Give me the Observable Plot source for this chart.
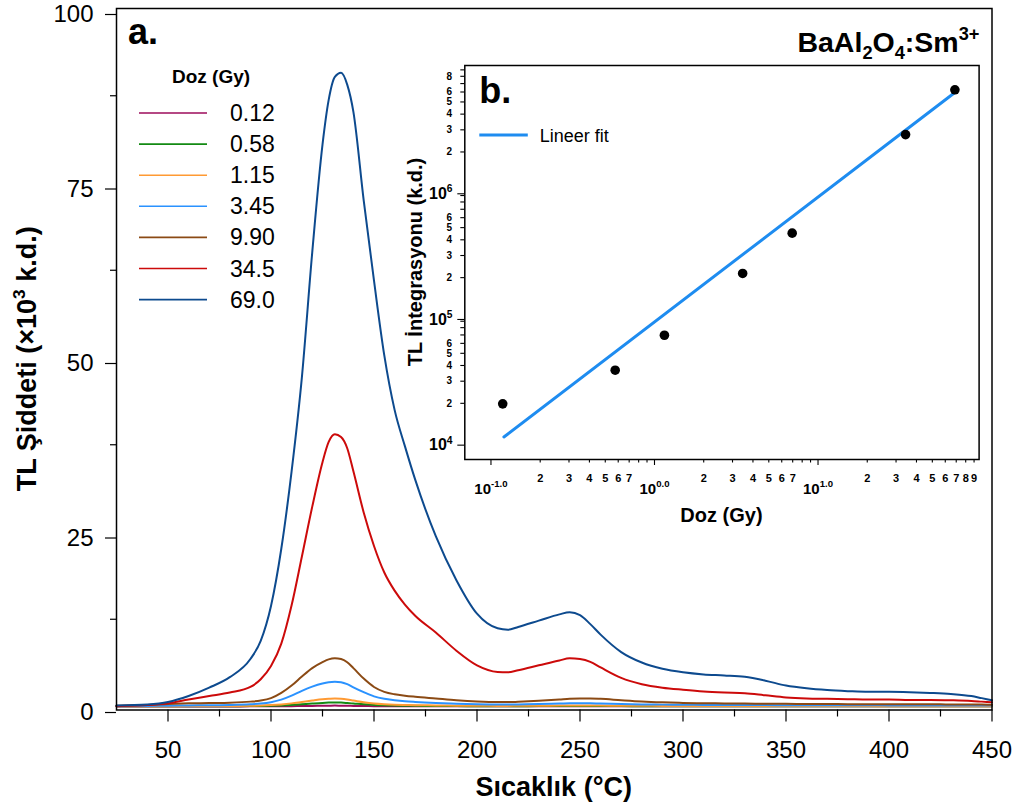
<!DOCTYPE html>
<html><head><meta charset="utf-8">
<script src="https://cdn.jsdelivr.net/npm/d3@7"></script>
<script src="https://cdn.jsdelivr.net/npm/@observablehq/plot@0.6"></script>
<style>
body{margin:0;background:#fff;}
#wrap{position:relative;width:1023px;height:806px;overflow:hidden;background:#fff;}
#wrap svg{position:absolute;overflow:visible;max-width:none;}
</style></head><body><div id="wrap"></div>
<script>
// ---------- Panel a: TL glow curves ----------
const temps = [25,40,50,60,70,80,90, 95,100,105,110,115,120,125, 128,131,134,137,140, 145,150,155,160,165,170, 180,190,200,210,215,220, 230,240,245,250,255,260, 270,280,290,300,310,320, 330,340,350,360,370,380, 390,400,410,420,430,440, 445,450];
const tl_69_0 = [0.15,0.3,0.65,1.5,2.7,4.2,6.8, 9.4,14.4,22.6,33.7,47.2,65.0,80.5, 86.9,90.2,90.8,89.1,85.2, 72.5,61.0,50.3,42.5,37.3,32.5, 24.4,18.1,13.3,11.2,11.0,11.4, 12.3,13.2,13.5,13.1,11.8,10.3, 7.8,6.3,5.4,4.9,4.6,4.45, 4.25,3.7,3.0,2.6,2.35,2.2, 2.1,2.1,2.05,1.95,1.8,1.5, 1.2,0.9];
const tl_34_5 = [0.05,0.2,0.45,1.0,1.5,2.0,2.8, 3.9,5.8,9.0,14.5,21.5,28.6,35.0, 37.9,39.0,38.6,37.0,33.7, 27.8,23.0,19.2,16.6,14.6,13.0, 10.6,8.0,5.9,4.95,4.9,5.2, 5.9,6.6,6.9,6.8,6.4,5.6, 4.1,3.2,2.7,2.4,2.15,2.0, 1.9,1.6,1.3,1.15,1.1,1.05, 1.0,1.0,0.95,0.95,0.9,0.8, 0.7,0.6];
const tl_9_90 = [0.1,0.2,0.35,0.45,0.5,0.55,0.7, 0.85,1.2,1.95,3.0,4.3,5.5,6.35, 6.75,6.9,6.8,6.35,5.5, 4.0,2.8,2.1,1.75,1.55,1.4, 1.15,0.9,0.72,0.63,0.63,0.68, 0.82,1.0,1.1,1.15,1.15,1.1, 0.9,0.72,0.6,0.52,0.47,0.44, 0.42,0.4,0.38,0.36,0.35,0.34, 0.33,0.33,0.32,0.32,0.3,0.3, 0.28,0.25];
const tl_3_45 = [0.05,0.08,0.12,0.15,0.18,0.22,0.32, 0.42,0.62,0.98,1.55,2.25,2.85,3.3, 3.48,3.55,3.48,3.2,2.75, 2.05,1.45,1.1,0.9,0.75,0.65, 0.5,0.4,0.32,0.28,0.28,0.3, 0.35,0.42,0.45,0.46,0.45,0.42, 0.36,0.3,0.27,0.25,0.23,0.22, 0.21,0.2,0.19,0.18,0.18,0.17, 0.17,0.16,0.16,0.15,0.15,0.14, 0.14,0.13];
const tl_1_15 = [0.03,0.04,0.05,0.06,0.07,0.08,0.11, 0.14,0.2,0.3,0.45,0.65,0.85,1.03, 1.1,1.15,1.1,1.0,0.86, 0.62,0.44,0.33,0.26,0.22,0.19, 0.15,0.12,0.1,0.09,0.09,0.1, 0.11,0.13,0.14,0.14,0.14,0.13, 0.11,0.1,0.09,0.08,0.08,0.07, 0.07,0.07,0.06,0.06,0.06,0.06, 0.06,0.05,0.05,0.05,0.05,0.05, 0.05,0.05];
const tl_0_58 = [0.02,0.02,0.03,0.03,0.04,0.04,0.06, 0.08,0.11,0.16,0.23,0.33,0.43,0.52, 0.56,0.58,0.56,0.5,0.43, 0.31,0.22,0.17,0.13,0.11,0.1, 0.08,0.06,0.05,0.05,0.05,0.05, 0.06,0.07,0.07,0.07,0.07,0.07, 0.06,0.05,0.05,0.04,0.04,0.04, 0.04,0.04,0.03,0.03,0.03,0.03, 0.03,0.03,0.03,0.03,0.03,0.03, 0.03,0.03];
const tl_0_12 = [0.01,0.01,0.01,0.01,0.01,0.01,0.02, 0.02,0.03,0.04,0.05,0.07,0.09,0.11, 0.12,0.13,0.12,0.11,0.09, 0.07,0.05,0.04,0.03,0.03,0.02, 0.02,0.02,0.02,0.02,0.02,0.02, 0.02,0.02,0.02,0.02,0.02,0.02, 0.02,0.02,0.02,0.02,0.02,0.02, 0.02,0.02,0.02,0.02,0.02,0.02, 0.02,0.02,0.02,0.02,0.02,0.02, 0.02,0.02];
const doseLabels = ["0.12","0.58","1.15","3.45","9.90","34.5","69.0"];
const doseColors = ["#9c0b5b","#138a13","#ff9a33","#2a92ff","#8b4a14","#cc0a0a","#0d4a8e"];
const xTicks = [50,100,150,200,250,300,350,400,450];
const xMinorTicks = [75,125,175,225,275,325,375,425];
const yTicks = [0,25,50,75,100];
const yMinorTicks = [12.5,37.5,62.5,87.5];

// ---------- Panel b: integrated TL vs dose ----------
const insetDose = [0.118,0.575,1.15,3.46,6.95,34.3,68.7];
const insetTL = [1.98e4,3.67e4,6.96e4,2.16e5,4.52e5,2.75e6,6.25e6];
const fitDose = [0.12,69];
const fitTL = [1.08e4,5.97e6];
const insetXMajor = [0.1,1,10];
const insetXMajorLabels = ["10^{-1.0}","10^{0.0}","10^{1.0}"];
const insetXMinor = [0.2,0.3,0.4,0.5,0.6,0.7,0.8,0.9,2,3,4,5,6,7,8,9,20,30,40,50,60,70,80,90];
const insetXMinorLabeled = [0.2,0.3,0.4,0.5,0.6,0.7,2,3,4,5,6,7,20,30,40,50,60,70,80,90];
const insetYMajor = [1e4,1e5,1e6];
const insetYMajorLabels = ["10^{4}","10^{5}","10^{6}"];
const insetYMinor = [2e4,3e4,4e4,5e4,6e4,7e4,8e4,9e4,2e5,3e5,4e5,5e5,6e5,7e5,8e5,9e5,2e6,3e6,4e6,5e6,6e6,7e6,8e6,9e6];
const insetYMinorLabeled = [2e4,3e4,4e4,5e4,6e4,2e5,3e5,4e5,5e5,6e5,2e6,3e6,4e6,5e6,6e6,8e6];

const FONT = '"Liberation Sans", Arial, Helvetica, sans-serif';
const wrap = document.getElementById("wrap");

function richText(sel, str, size) {
  const parts = []; const re = /([\^_])\{([^}]*)\}/g; let last = 0, m;
  while ((m = re.exec(str))) {
    if (m.index > last) parts.push({t: str.slice(last, m.index), k: 0});
    parts.push({t: m[2], k: m[1] === "^" ? 1 : -1});
    last = re.lastIndex;
  }
  if (last < str.length) parts.push({t: str.slice(last), k: 0});
  let off = 0;
  for (const p of parts) {
    const target = p.k === 1 ? -0.42 * size : p.k === -1 ? 0.25 * size : 0;
    sel.append("tspan").attr("dy", target - off).attr("font-size", p.k ? size * 0.64 : size).text(p.t);
    off = target;
  }
}
function richify(svg) {
  d3.select(svg).selectAll("text").each(function () {
    const s = this.textContent;
    if (s.includes("^{") || s.includes("_{")) {
      const size = parseFloat(getComputedStyle(this).fontSize);
      d3.select(this).text(null);
      richText(d3.select(this), s, size);
    }
  });
}

const curves = [tl_0_12, tl_0_58, tl_1_15, tl_3_45, tl_9_90, tl_34_5, tl_69_0];
const curveRows = doseLabels.flatMap((dose, i) => temps.map((T, j) => ({T, v: curves[i][j], dose})));

const main = Plot.plot({
  width: 1023, height: 806,
  marginLeft: 116, marginRight: 31.5, marginTop: 8, marginBottom: 96.5,
  style: {fontFamily: FONT, color: "black", background: "transparent", overflow: "visible"},
  x: {domain: [25, 450]},
  y: {domain: [-0.5, 100]},
  color: {domain: doseLabels, range: doseColors},
  marks: [
    Plot.line(curveRows, {x: "T", y: "v", z: "dose", stroke: "dose", strokeWidth: 2, curve: "monotone-x"}),
    Plot.frame({stroke: "black", strokeWidth: 1.5}),
    Plot.axisX({ticks: xTicks, tickSize: 12, tickPadding: 19, fontSize: 24, label: null, strokeWidth: 1.2}),
    Plot.axisX({ticks: xMinorTicks, tickSize: 7, tickFormat: () => "", label: null, strokeWidth: 1.2}),
    Plot.axisY({ticks: yTicks, tickSize: 11, tickPadding: 12, fontSize: 24, dy: 6, label: null, strokeWidth: 1.2}),
    Plot.axisY({ticks: yMinorTicks, tickSize: 6, tickFormat: () => "", label: null, strokeWidth: 1.2})
  ]
});
main.style.left = "0px"; main.style.top = "0px";
wrap.appendChild(main);

const ms = d3.select(main);
const fx = 116, fr = 1023 - 31.5, ft = 8, fb = 806 - 96.5;
ms.append("text").attr("x", fx + 12).attr("y", ft + 36).attr("text-anchor", "start").attr("font-size", 36)
  .attr("font-weight", "bold").attr("font-family", FONT).text("a.");
const title = ms.append("text").attr("x", fr - 12).attr("y", ft + 44).attr("text-anchor", "end")
  .attr("font-size", 28.5).attr("font-weight", "bold").attr("font-family", FONT);
richText(title, "BaAl_{2}O_{4}:Sm^{3+}", 28.5);
ms.append("text").attr("x", (fx + fr) / 2).attr("y", 796).attr("text-anchor", "middle")
  .attr("font-size", 27).attr("font-weight", "bold").attr("font-family", FONT).text("Sıcaklık (°C)");
const ytitle = ms.append("text").attr("transform", `translate(36,${(ft + fb) / 2}) rotate(-90)`)
  .attr("text-anchor", "middle").attr("font-size", 27).attr("font-weight", "bold").attr("font-family", FONT);
richText(ytitle, "TL Şiddeti (×10^{3} k.d.)", 27);

const lg = ms.append("g").attr("font-family", FONT).attr("text-anchor", "start");
lg.append("text").attr("x", 172).attr("y", 83).attr("font-size", 19).attr("font-weight", "bold").text("Doz (Gy)");
doseLabels.forEach((d, i) => {
  const y = 113 + i * 31.1;
  lg.append("line").attr("x1", 139).attr("x2", 207).attr("y1", y).attr("y2", y)
    .attr("stroke", doseColors[i]).attr("stroke-width", 1.6);
  lg.append("text").attr("x", 230).attr("y", y + 8).attr("font-size", 23).text(d);
});

// ---------- inset ----------
const digit = d => String(Math.round(d / 10 ** Math.floor(Math.log10(d) + 1e-9)));
const ptsRows = insetDose.map((d, i) => ({d, v: insetTL[i]}));
const fitRows = fitDose.map((d, i) => ({d, v: fitTL[i]}));
const inset = Plot.plot({
  width: 600, height: 480,
  marginLeft: 64.3, marginRight: 21.4, marginTop: 10, marginBottom: 76,
  style: {fontFamily: FONT, color: "black", background: "transparent", overflow: "visible"},
  x: {type: "log", domain: [10 ** -1.16, 10 ** 1.985]},
  y: {type: "log", domain: [10 ** 3.854, 10 ** 6.989]},
  marks: [
    Plot.frame({fill: "white"}),
    Plot.line(fitRows, {x: "d", y: "v", stroke: "#1e8cf0", strokeWidth: 3}),
    Plot.dot(ptsRows, {x: "d", y: "v", r: 4.8, fill: "black"}),
    Plot.frame({stroke: "black", strokeWidth: 1.5}),
    Plot.axisX({ticks: insetXMajor, tickSize: 6, tickPadding: 17.6, fontSize: 15, fontWeight: "bold", label: null,
      tickFormat: d => insetXMajorLabels[insetXMajor.indexOf(d)], strokeWidth: 1.1}),
    Plot.axisX({ticks: insetXMinor, tickSize: 3.5, tickFormat: () => "", label: null, strokeWidth: 1.1}),
    Plot.text(insetXMinorLabeled, {x: d => d, frameAnchor: "bottom", dy: 22.3, text: digit,
      fontSize: 11, fontWeight: "bold"}),
    Plot.axisY({ticks: insetYMajor, tickSize: 7, tickPadding: 5.3, dy: 4, fontSize: 16, fontWeight: "bold", label: null,
      tickFormat: d => insetYMajorLabels[insetYMajor.indexOf(d)], strokeWidth: 1.1}),
    Plot.axisY({ticks: insetYMinor, tickSize: 4, tickFormat: () => "", label: null, strokeWidth: 1.1}),
    Plot.text(insetYMinorLabeled, {y: d => d, frameAnchor: "left", dx: -12.7, textAnchor: "end", text: digit,
      fontSize: 10, fontWeight: "bold"})
  ]
});
inset.style.left = "400px"; inset.style.top = "55px";
wrap.appendChild(inset);
richify(inset);

const is = d3.select(inset);
const ifl = 64.3, ifr = 600 - 21.4, ift = 10, ifb = 480 - 76;
const ig = is.append("g").attr("font-family", FONT).attr("text-anchor", "start");
ig.append("text").attr("x", ifl + 15).attr("y", ift + 38).attr("font-size", 36).attr("font-weight", "bold").text("b.");
ig.append("line").attr("x1", ifl + 15).attr("x2", ifl + 63.5).attr("y1", 80).attr("y2", 80)
  .attr("stroke", "#1e8cf0").attr("stroke-width", 3);
ig.append("text").attr("x", ifl + 75.5).attr("y", 86.7).attr("font-size", 18).text("Lineer fit");
ig.append("text").attr("x", (ifl + ifr) / 2).attr("y", 466.7).attr("text-anchor", "middle")
  .attr("font-size", 20).attr("font-weight", "bold").text("Doz (Gy)");
ig.append("text").attr("transform", `translate(22,${(ift + ifb) / 2}) rotate(-90)`).attr("text-anchor", "middle")
  .attr("font-size", 20).attr("font-weight", "bold").text("TL İntegrasyonu (k.d.)");
</script></body></html>
